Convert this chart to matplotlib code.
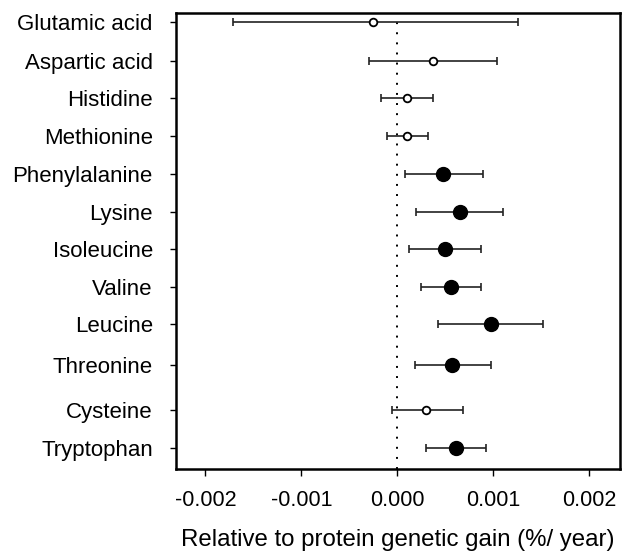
import matplotlib
matplotlib.use("Agg")
import matplotlib.pyplot as plt

amino_acids = ["Glutamic acid", "Aspartic acid", "Histidine", "Methionine",
               "Phenylalanine", "Lysine", "Isoleucine", "Valine", "Leucine",
               "Threonine", "Cysteine", "Tryptophan"]
estimate = [-0.000254, 0.000371, 0.000104, 0.000100, 0.000475, 0.000652,
            0.000493, 0.000555, 0.000979, 0.000569, 0.000302, 0.000607]
ci_low = [-0.001713, -0.000296, -0.000167, -0.000111, 0.000076, 0.000198,
          0.000118, 0.000250, 0.000423, 0.000188, -0.000052, 0.000302]
ci_high = [0.001257, 0.001042, 0.000375, 0.000319, 0.000892, 0.001104,
           0.000868, 0.000868, 0.001517, 0.000972, 0.000683, 0.000920]
significant = [False, False, False, False, True, True, True, True, True,
               True, False, True]
row_pos = [0.0, 0.99, 1.96, 2.94, 3.92, 4.90, 5.85, 6.84, 7.81, 8.87, 10.03, 11.0]
xticks = [-0.002, -0.001, 0.0, 0.001, 0.002]
xtick_labels = ["-0.002", "-0.001", "0.000", "0.001", "0.002"]
xlabel = "Relative to protein genetic gain (%/ year)"

plt.rcParams['font.family'] = ['Liberation Sans', 'DejaVu Sans']

fig = plt.figure(figsize=(6.26, 5.56), dpi=100)
ax = fig.add_axes([0.2807, 0.1565, 0.990 - 0.2807, 0.977 - 0.1565])

ax.axvline(0, color='black', lw=1.4, linestyle=(0, (1, 4.2)), zorder=1)

for y, m, lo, hi, sig in zip(row_pos, estimate, ci_low, ci_high, significant):
    ax.errorbar([m], [y], xerr=[[m - lo], [hi - m]], fmt='none',
                ecolor='#222222', elinewidth=1.2, capsize=2.7, capthick=1.2,
                zorder=2)
    if sig:
        ax.plot([m], [y], 'o', color='black', markersize=10, zorder=3)
    else:
        ax.plot([m], [y], 'o', markerfacecolor='white', markeredgecolor='black',
                markeredgewidth=1.3, markersize=5.5, zorder=3)

ax.set_xlim(-0.00231, 0.002316)
ax.set_ylim(11.55, -0.248)
ax.set_yticks(row_pos)
ax.set_yticklabels(amino_acids, fontsize=16)
ax.set_xticks(xticks)
ax.set_xticklabels(xtick_labels, fontsize=15.5)
ax.tick_params(axis='y', length=4.5, width=1.0, pad=12)
ax.tick_params(axis='x', length=5, width=1.0, pad=10)
ax.set_xlabel(xlabel, fontsize=17.3, labelpad=13)
for s in ax.spines.values():
    s.set_linewidth(1.8)

fig.savefig("out.png", dpi=100)
